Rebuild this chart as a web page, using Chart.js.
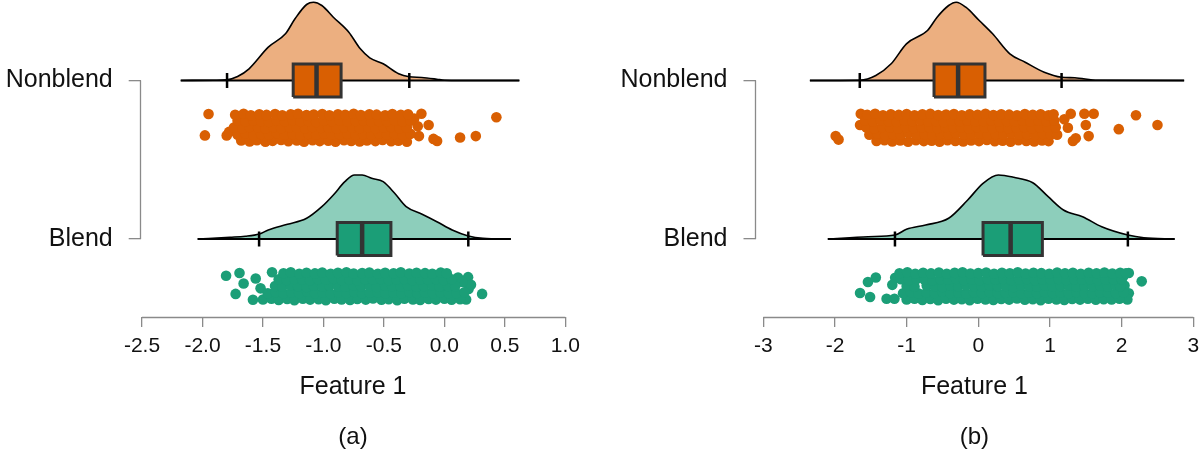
<!DOCTYPE html>
<html><head><meta charset="utf-8">
<script src="https://cdn.jsdelivr.net/npm/chart.js@4.4.1/dist/chart.umd.min.js"></script>
<style>
html,body{margin:0;padding:0;background:#fff;}
#wrap{position:relative;width:1200px;height:452px;overflow:hidden;}
.c{position:absolute;top:0;width:600px;height:452px;}
</style></head><body>
<div id="wrap">
<div class="c" style="left:0"><canvas id="ca" width="600" height="452"></canvas></div>
<div class="c" style="left:600px"><canvas id="cb" width="600" height="452"></canvas></div>
</div>
<script>
// ---------- data ----------
const categories = ['Blend', 'Nonblend'];   // y positions 1 and 2
const panelLabels = ['(a)', '(b)'];
const xTitle = 'Feature 1';

const xTicksA = [-2.5, -2.0, -1.5, -1.0, -0.5, 0.0, 0.5, 1.0];
const xTickLabelsA = ['-2.5', '-2.0', '-1.5', '-1.0', '-0.5', '0.0', '0.5', '1.0'];
const xTicksB = [-3, -2, -1, 0, 1, 2, 3];
const xTickLabelsB = ['-3', '-2', '-1', '0', '1', '2', '3'];

// five-number summaries: [lower whisker, q1, median, q3, upper whisker]
const statsA_non = [-1.797, -1.25, -1.057, -0.854, -0.29];
const statsA_bl  = [-1.532, -0.886, -0.68, -0.442, 0.198];
const statsB_non = [-1.654, -0.618, -0.282, 0.093, 1.162];
const statsB_bl  = [-1.163, 0.066, 0.451, 0.894, 2.087];

// density curves (x, density)
const densA_non_x = [-2.18,-1.90,-1.80,-1.71,-1.615,-1.456,-1.314,-1.235,-1.139,-1.082,-1.013,-0.918,-0.79,-0.695,-0.617,-0.506,-0.378,-0.29,-0.188,-0.062,0.0,0.3,0.62];
const densA_non_d = [0,0.003,0.007,0.04,0.117,0.333,0.467,0.617,0.76,0.783,0.75,0.633,0.483,0.317,0.227,0.167,0.067,0.037,0.03,0.013,0.003,0,0];
const densA_bl_x = [-2.04,-1.773,-1.646,-1.53,-1.456,-1.297,-1.139,-1.013,-0.918,-0.823,-0.743,-0.68,-0.601,-0.506,-0.411,-0.316,-0.188,-0.062,0.065,0.198,0.319,0.55];
const densA_bl_d = [0,0.017,0.027,0.05,0.09,0.147,0.207,0.323,0.44,0.573,0.64,0.64,0.607,0.573,0.457,0.323,0.25,0.173,0.09,0.03,0.007,0];
const densB_non_x = [-2.35,-1.654,-1.43,-1.216,-1.003,-0.709,-0.575,-0.414,-0.308,-0.174,0.013,0.2,0.44,0.654,0.92,1.162,1.347,1.668,2.872];
const densB_non_d = [0,0.003,0.05,0.167,0.367,0.5,0.633,0.75,0.783,0.733,0.6,0.467,0.267,0.183,0.083,0.033,0.027,0.003,0];
const densB_bl_x = [-2.10,-1.537,-1.163,-1.003,-0.735,-0.414,-0.148,0.066,0.28,0.494,0.76,0.975,1.188,1.455,1.722,2.087,2.31,2.74];
const densB_bl_d = [0,0.023,0.04,0.097,0.14,0.207,0.39,0.557,0.64,0.617,0.563,0.423,0.29,0.223,0.123,0.04,0.013,0];

// raw observations: [value, jitter]
const ptsA_non = [
[-1.98,-.55],[-1.95,.98],[-1.80,-.55],[-1.78,-.3],[-0.21,-.6],[-0.19,1],[-0.13,.2],[-0.09,-.8],[-0.06,-.95],[0.13,-.7],[0.26,-.6],[0.43,.75],[-0.25,.65],[-0.22,.1],
[-1.68,-.92],[-1.61,-.98],[-1.55,-.9],[-1.48,-1],[-1.42,-.94],[-1.35,-.88],[-1.29,-.97],[-1.22,-.92],[-1.16,-1],[-1.09,-.9],[-1.03,-.96],[-0.96,-.93],[-0.90,-1],[-0.83,-.89],[-0.77,-.95],[-0.70,-.99],[-0.64,-.91],[-0.57,-.96],[-0.51,-.88],[-0.44,-.97],[-0.38,-.93],[-0.31,-1],
[-1.71,-.5],[-1.645,-.42],[-1.58,-.52],[-1.515,-.45],[-1.45,-.48],[-1.385,-.4],[-1.32,-.5],[-1.255,-.46],[-1.19,-.53],[-1.125,-.44],[-1.06,-.49],[-0.995,-.41],[-0.93,-.5],[-0.865,-.47],[-0.80,-.43],[-0.735,-.52],[-0.67,-.46],[-0.605,-.5],[-0.54,-.42],[-0.475,-.49],[-0.41,-.45],[-0.345,-.51],[-0.28,-.44],
[-1.74,.02],[-1.67,-.04],[-1.61,.05],[-1.54,0],[-1.48,-.05],[-1.41,.03],[-1.35,-.02],[-1.28,.04],[-1.22,0],[-1.15,-.03],[-1.09,.05],[-1.02,-.01],[-0.96,.02],[-0.89,-.05],[-0.83,.03],[-0.76,0],[-0.70,-.02],[-0.63,.04],[-0.57,-.03],[-0.50,.01],[-0.44,.05],[-0.37,-.04],[-0.31,.02],
[-1.71,.5],[-1.645,.44],[-1.58,.52],[-1.515,.47],[-1.45,.42],[-1.385,.5],[-1.32,.46],[-1.255,.53],[-1.19,.45],[-1.125,.49],[-1.06,.41],[-0.995,.5],[-0.93,.47],[-0.865,.52],[-0.80,.44],[-0.735,.48],[-0.67,.51],[-0.605,.43],[-0.54,.49],[-0.475,.46],[-0.41,.52],[-0.345,.44],[-0.28,.5],
[-1.73,.93],[-1.66,1],[-1.60,.9],[-1.53,.97],[-1.47,.92],[-1.40,.99],[-1.34,.9],[-1.27,.96],[-1.21,1],[-1.14,.91],[-1.08,.95],[-1.01,.98],[-0.95,.9],[-0.88,.96],[-0.82,.93],[-0.75,1],[-0.69,.91],[-0.62,.97],[-0.56,.94],[-0.49,.9],[-0.43,.98],[-0.36,.93],[-0.30,.96]
];
const ptsA_bl = [
[-1.805,.75],[-1.726,-.55],[-1.694,.95],[-1.66,.2],[-1.583,-.97],[-1.52,-.15],[-1.425,1],[-1.56,.55],[0.312,-.55],[0.196,.65],[0.113,.62],[0.18,-.95],[0.2,-.2],[0.22,.1],[0.15,.3],
[-1.50,-.95],[-1.43,-.9],[-1.37,-.98],[-1.30,-.92],[-1.24,-1],[-1.17,-.9],[-1.11,-.96],[-1.04,-.93],[-0.98,-1],[-0.91,-.89],[-0.85,-.95],[-0.78,-.99],[-0.72,-.91],[-0.65,-.96],[-0.59,-.88],[-0.52,-.97],[-0.46,-.93],[-0.39,-1],[-0.33,-.9],[-0.26,-.95],[-0.20,-.98],[-0.13,-.91],[-0.07,-.96],[0.00,-.9],[0.06,-.97],[0.13,-.93],
[-1.46,-.5],[-1.395,-.42],[-1.33,-.52],[-1.265,-.45],[-1.20,-.48],[-1.135,-.4],[-1.07,-.5],[-1.005,-.46],[-0.94,-.53],[-0.875,-.44],[-0.81,-.49],[-0.745,-.41],[-0.68,-.5],[-0.615,-.47],[-0.55,-.43],[-0.485,-.52],[-0.42,-.46],[-0.355,-.5],[-0.29,-.42],[-0.225,-.49],[-0.16,-.45],[-0.095,-.51],[-0.03,-.44],[0.035,-.48],[0.10,-.5],[0.165,-.43],
[-1.40,.02],[-1.34,-.04],[-1.27,.05],[-1.21,0],[-1.14,-.05],[-1.08,.03],[-1.01,-.02],[-0.95,.04],[-0.88,0],[-0.82,-.03],[-0.75,.05],[-0.69,-.01],[-0.62,.02],[-0.56,-.05],[-0.49,.03],[-0.43,0],[-0.36,-.02],[-0.30,.04],[-0.23,-.03],[-0.17,.01],[-0.10,.05],[-0.04,-.04],[0.03,.02],[0.09,0],
[-1.37,.5],[-1.305,.44],[-1.24,.52],[-1.175,.47],[-1.11,.42],[-1.045,.5],[-0.98,.46],[-0.915,.53],[-0.85,.45],[-0.785,.49],[-0.72,.41],[-0.655,.5],[-0.59,.47],[-0.525,.52],[-0.46,.44],[-0.395,.48],[-0.33,.51],[-0.265,.43],[-0.20,.49],[-0.135,.46],[-0.07,.52],[-0.005,.44],[0.06,.5],
[-1.33,.93],[-1.27,1],[-1.20,.9],[-1.14,.97],[-1.07,.92],[-1.01,.99],[-0.94,.9],[-0.88,.96],[-0.81,1],[-0.75,.91],[-0.68,.95],[-0.62,.98],[-0.55,.9],[-0.49,.96],[-0.42,.93],[-0.36,1],[-0.29,.91],[-0.23,.97],[-0.16,.94],[-0.10,.9],[-0.03,.98],[0.02,.93]
];
const ptsB_non = [
[-1.99,-.6],[-1.95,-.85],[-1.65,.2],[-1.64,1],[1.32,-.95],[1.36,-.75],[1.29,1],[1.48,1],[1.61,1],[1.54,-.6],[1.5,.2],[1.96,-.1],[2.2,.9],[2.5,.2],[1.2,.6],[1.25,0],
[-1.42,-.95],[-1.31,-.9],[-1.20,-.98],[-1.09,-.92],[-0.98,-1],[-0.87,-.9],[-0.76,-.96],[-0.65,-.93],[-0.54,-1],[-0.43,-.89],[-0.32,-.95],[-0.21,-.99],[-0.10,-.91],[0.01,-.96],[0.12,-.88],[0.23,-.97],[0.34,-.93],[0.45,-1],[0.56,-.9],[0.67,-.95],[0.78,-.98],[0.89,-.91],[0.98,-.96],
[-1.52,-.5],[-1.41,-.42],[-1.30,-.52],[-1.19,-.45],[-1.08,-.48],[-0.97,-.4],[-0.86,-.5],[-0.75,-.46],[-0.64,-.53],[-0.53,-.44],[-0.42,-.49],[-0.31,-.41],[-0.20,-.5],[-0.09,-.47],[0.02,-.43],[0.13,-.52],[0.24,-.46],[0.35,-.5],[0.46,-.42],[0.57,-.49],[0.68,-.45],[0.79,-.51],[0.90,-.44],[1.01,-.48],[1.10,-.5],
[-1.56,.02],[-1.45,-.04],[-1.34,.05],[-1.23,0],[-1.12,-.05],[-1.01,.03],[-0.90,-.02],[-0.79,.04],[-0.68,0],[-0.57,-.03],[-0.46,.05],[-0.35,-.01],[-0.24,.02],[-0.13,-.05],[-0.02,.03],[0.09,0],[0.20,-.02],[0.31,.04],[0.42,-.03],[0.53,.01],[0.64,.05],[0.75,-.04],[0.86,.02],[0.97,0],[1.08,.03],
[-1.58,.5],[-1.47,.44],[-1.36,.52],[-1.25,.47],[-1.14,.42],[-1.03,.5],[-0.92,.46],[-0.81,.53],[-0.70,.45],[-0.59,.49],[-0.48,.41],[-0.37,.5],[-0.26,.47],[-0.15,.52],[-0.04,.44],[0.07,.48],[0.18,.51],[0.29,.43],[0.40,.49],[0.51,.46],[0.62,.52],[0.73,.44],[0.84,.5],[0.95,.47],[1.06,.51],
[-1.55,.93],[-1.44,1],[-1.33,.9],[-1.22,.97],[-1.11,.92],[-1.00,.99],[-0.89,.9],[-0.78,.96],[-0.67,1],[-0.56,.91],[-0.45,.95],[-0.34,.98],[-0.23,.9],[-0.12,.96],[-0.01,.93],[0.10,1],[0.21,.91],[0.32,.97],[0.43,.94],[0.54,.9],[0.65,.98],[0.76,.93],[0.87,.96],[0.98,.9],[1.05,.97]
];
const ptsB_bl = [
[-1.65,-.48],[-1.51,-.77],[-1.54,.3],[-1.43,.63],[-1.28,-.9],[-1.17,-.9],[-1.16,.6],[-1.2,.1],[2.1,-.5],[2.04,.05],[2.02,.7],[2.28,.35],[2.1,.95],[2.08,-.95],
[-1.00,-.95],[-0.89,-.9],[-0.78,-.98],[-0.67,-.92],[-0.56,-1],[-0.45,-.9],[-0.34,-.96],[-0.23,-.93],[-0.12,-1],[-0.01,-.89],[0.10,-.95],[0.21,-.99],[0.32,-.91],[0.43,-.96],[0.54,-.88],[0.65,-.97],[0.76,-.93],[0.87,-1],[0.98,-.9],[1.09,-.95],[1.20,-.98],[1.31,-.91],[1.42,-.96],[1.53,-.9],[1.64,-.97],[1.75,-.93],[1.86,-.95],[1.97,-.9],
[-1.05,-.5],[-0.94,-.42],[-0.83,-.52],[-0.72,-.45],[-0.61,-.48],[-0.50,-.4],[-0.39,-.5],[-0.28,-.46],[-0.17,-.53],[-0.06,-.44],[0.05,-.49],[0.16,-.41],[0.27,-.5],[0.38,-.47],[0.49,-.43],[0.60,-.52],[0.71,-.46],[0.82,-.5],[0.93,-.42],[1.04,-.49],[1.15,-.45],[1.26,-.51],[1.37,-.44],[1.48,-.48],[1.59,-.5],[1.70,-.43],[1.81,-.47],[1.92,-.5],[2.03,-.45],
[-1.00,.02],[-0.89,-.04],[-0.72,.05],[-0.61,0],[-0.50,-.05],[-0.39,.03],[-0.28,-.02],[-0.17,.04],[-0.06,0],[0.05,-.03],[0.16,.05],[0.27,-.01],[0.38,.02],[0.49,-.05],[0.60,.03],[0.71,0],[0.82,-.02],[0.93,.04],[1.04,-.03],[1.15,.01],[1.26,.05],[1.37,-.04],[1.48,.02],[1.59,0],[1.70,.03],[1.81,-.02],[1.92,.04],[1.98,0],
[-1.08,.5],[-0.97,.44],[-0.86,.52],[-0.75,.47],[-0.64,.42],[-0.53,.5],[-0.42,.46],[-0.31,.53],[-0.20,.45],[-0.09,.49],[0.02,.41],[0.13,.5],[0.24,.47],[0.35,.52],[0.46,.44],[0.57,.48],[0.68,.51],[0.79,.43],[0.90,.49],[1.01,.46],[1.12,.52],[1.23,.44],[1.34,.5],[1.45,.47],[1.56,.51],[1.67,.43],[1.78,.49],[1.89,.46],[2.00,.5],
[-1.10,.93],[-0.99,1],[-0.88,.9],[-0.77,.97],[-0.66,.92],[-0.55,.99],[-0.44,.9],[-0.33,.96],[-0.22,1],[-0.11,.91],[0.00,.95],[0.11,.98],[0.22,.9],[0.33,.96],[0.44,.93],[0.55,1],[0.66,.91],[0.77,.97],[0.88,.94],[0.99,.9],[1.10,.98],[1.21,.93],[1.32,.96],[1.43,.9],[1.54,.97],[1.65,.93],[1.76,.99],[1.87,.91],[1.98,.96],[2.06,.93]
];

// ---------- style ----------
const NB_DARK = '#D95F02', NB_LIGHT = '#ECAF80';
const BL_DARK = '#1B9E77', BL_LIGHT = '#8DCEBB';
const AXIS = '#8a8a8a', BOXLINE = '#333333', TEXT = '#111111';
const DENS_SCALE = 1 / 1.585;   // density -> y units
const BOX_HALF = 0.104, CAP_HALF = 0.047;
const RAIN_OFFSET = 0.298, RAIN_HALF = 0.088;
Chart.defaults.font.family = "'Liberation Sans', Arial, Helvetica, sans-serif";

const axisLines = {
  id: 'axisLines',
  afterDraw(chart) {
    const {ctx, scales: {x, y}, chartArea} = chart;
    ctx.save();
    ctx.strokeStyle = AXIS;
    ctx.lineWidth = 1.3;
    ctx.beginPath();
    const yl = Math.round(chartArea.left) - 0.5;
    ctx.moveTo(yl, y.getPixelForValue(2));
    ctx.lineTo(yl, y.getPixelForValue(1));
    const t = x.ticks;
    const xt = Math.round(x.top) + 0.5;
    ctx.moveTo(x.getPixelForValue(t[0].value), xt);
    ctx.lineTo(x.getPixelForValue(t[t.length - 1].value), xt);
    ctx.stroke();
    ctx.restore();
  }
};

function groupDatasets(g) {
  const base = g.pos;
  const [lo, q1, med, q3, hi] = g.stats;
  const ds = [];
  ds.push({type: 'line', data: g.dx.map((x, i) => ({x, y: base + g.dd[i] * DENS_SCALE})),
    fill: {value: base}, backgroundColor: g.light, borderColor: '#000', borderWidth: 1.6,
    pointRadius: 0, cubicInterpolationMode: 'monotone', order: 50});
  ds.push({type: 'line', data: [{x: g.dx[0], y: base}, {x: g.dx[g.dx.length - 1], y: base}],
    borderColor: '#000', borderWidth: 2, pointRadius: 0, fill: false, order: 40});
  [lo, hi].forEach(c => ds.push({type: 'line', data: [{x: c, y: base - CAP_HALF}, {x: c, y: base + CAP_HALF}],
    borderColor: '#000', borderWidth: 2.5, pointRadius: 0, fill: false, order: 30}));
  ds.push({type: 'line', data: [{x: q1, y: base + BOX_HALF}, {x: q3, y: base + BOX_HALF}],
    fill: {value: base - BOX_HALF}, backgroundColor: g.dark, borderWidth: 0, pointRadius: 0, order: 20});
  ds.push({type: 'line', data: [{x: q1, y: base - BOX_HALF}, {x: q1, y: base + BOX_HALF}, {x: q3, y: base + BOX_HALF}, {x: q3, y: base - BOX_HALF}, {x: q1, y: base - BOX_HALF}],
    borderColor: BOXLINE, borderWidth: 3, borderJoinStyle: 'miter', pointRadius: 0, fill: false, order: 15});
  ds.push({type: 'line', data: [{x: med, y: base - BOX_HALF}, {x: med, y: base + BOX_HALF}],
    borderColor: BOXLINE, borderWidth: 4.5, pointRadius: 0, fill: false, order: 10});
  ds.push({type: 'scatter', data: g.pts.map(p => ({x: p[0], y: base - RAIN_OFFSET + p[1] * RAIN_HALF})),
    pointRadius: 5.3, pointBackgroundColor: g.dark, pointBorderWidth: 0, backgroundColor: g.dark, order: 5});
  return ds;
}

function panel(id, o) {
  const datasets = [].concat(...o.groups.map(groupDatasets));
  new Chart(document.getElementById(id), {
    type: 'scatter',
    data: {datasets},
    options: {
      responsive: false, animation: false, devicePixelRatio: 1,
      layout: {autoPadding: false, padding: {left: 0, right: o.rightPad, top: 0, bottom: 0}},
      plugins: {
        legend: {display: false}, tooltip: {enabled: false},
        title: {display: true, text: o.label, position: 'bottom', fullSize: false, color: TEXT,
          font: {size: 24, weight: 'normal'}, padding: {top: 21, bottom: 0}}
      },
      scales: {
        x: {type: 'linear', min: o.xMin, max: o.xMax,
          afterBuildTicks: s => { s.ticks = o.ticks.map(v => ({value: v})); },
          afterFit: s => { s.paddingLeft = 0; s.paddingRight = 0; },
          ticks: {autoSkip: false, maxRotation: 0, padding: 7, color: TEXT, font: {size: 21},
            callback: (v, i) => o.tickLabels[i]},
          grid: {display: true, drawOnChartArea: false, drawTicks: true, tickLength: 10, color: AXIS, lineWidth: 1.3},
          border: {display: false},
          title: {display: true, text: xTitle, color: TEXT, font: {size: 25}, padding: {top: 6, bottom: 0}}
        },
        y: {type: 'linear', min: 0.5079, max: 2.5079,
          afterBuildTicks: s => { s.ticks = [{value: 1}, {value: 2}]; },
          afterFit: s => { s.width = o.yWidth; s.paddingTop = 0; s.paddingBottom = 0; },
          ticks: {padding: 16, color: TEXT, font: {size: 25}, callback: v => categories[Math.round(v) - 1]},
          grid: {display: true, drawOnChartArea: false, drawTicks: true, tickLength: 12, color: AXIS, lineWidth: 1.3},
          border: {display: false}
        }
      }
    },
    plugins: [axisLines]
  });
}

panel('ca', {label: panelLabels[0], xMin: -2.511, xMax: 1.0, rightPad: 34.7, yWidth: 140.7,
  ticks: xTicksA, tickLabels: xTickLabelsA,
  groups: [
    {pos: 2, stats: statsA_non, dx: densA_non_x, dd: densA_non_d, pts: ptsA_non, dark: NB_DARK, light: NB_LIGHT},
    {pos: 1, stats: statsA_bl, dx: densA_bl_x, dd: densA_bl_d, pts: ptsA_bl, dark: BL_DARK, light: BL_LIGHT}
  ]});
panel('cb', {label: panelLabels[1], xMin: -3.109, xMax: 3, rightPad: 6.7, yWidth: 155.5,
  ticks: xTicksB, tickLabels: xTickLabelsB,
  groups: [
    {pos: 2, stats: statsB_non, dx: densB_non_x, dd: densB_non_d, pts: ptsB_non, dark: NB_DARK, light: NB_LIGHT},
    {pos: 1, stats: statsB_bl, dx: densB_bl_x, dd: densB_bl_d, pts: ptsB_bl, dark: BL_DARK, light: BL_LIGHT}
  ]});
</script>
</body></html>
